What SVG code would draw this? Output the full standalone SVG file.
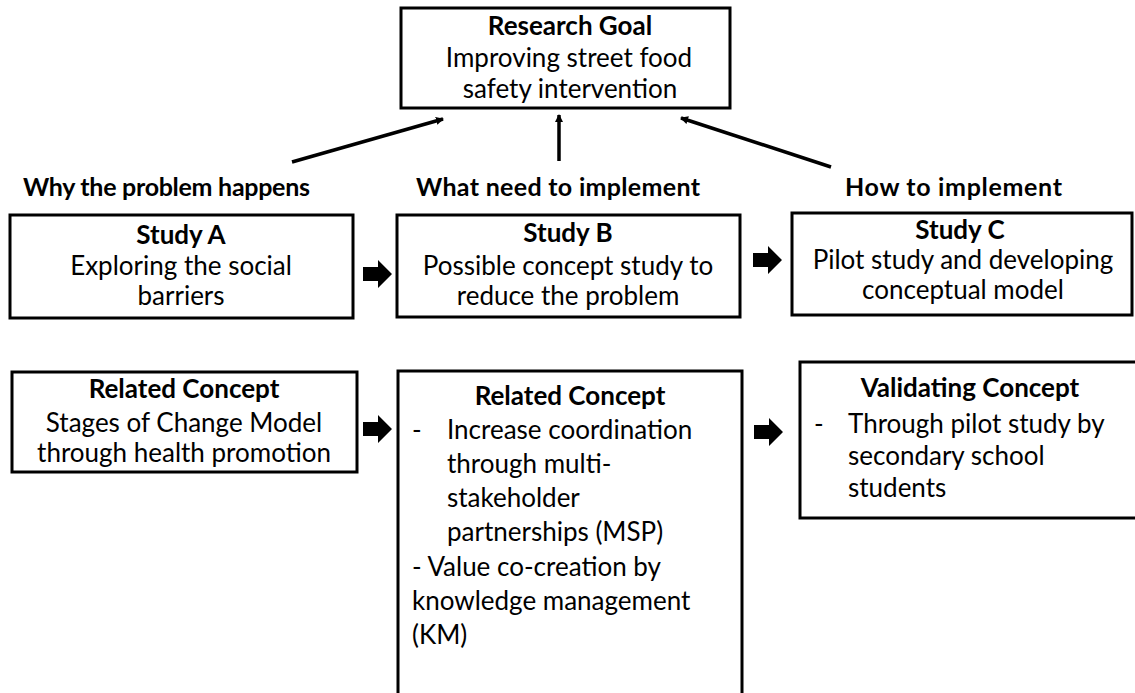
<svg xmlns="http://www.w3.org/2000/svg" width="1135" height="693" viewBox="0 0 1135 693">
<defs>
<style>
text{font-family:Lato,"Open Sans","Liberation Sans",sans-serif;font-size:26px;fill:#000}
.b{font-weight:bold}
.c{text-anchor:middle}
.box{fill:#fff;stroke:#000;stroke-width:3}
.ln{stroke:#000;stroke-width:3.5;fill:none}
.lbl{font-weight:bold;font-size:25px}
</style>
<marker id="ah" markerWidth="10" markerHeight="10" refX="7" refY="4" orient="auto" markerUnits="userSpaceOnUse" viewBox="0 0 10 8">
<path d="M0,0 L8,4 L0,8 Z" fill="#000"/>
</marker>
<path id="blk" d="M0,-7 H15 V-14 L29,0 L15,14 V7 H0 Z" fill="#000"/>
</defs>
<rect width="1135" height="693" fill="#fff"/>

<g id="goal">
<rect class="box" x="401" y="8" width="329" height="100"/>
<text class="b c" x="570" y="35">Research Goal</text>
<text class="c" x="569" y="67">Improving street food</text>
<text class="c" x="570" y="98">safety intervention</text>
</g>

<g id="labels">
<text class="lbl" x="23" y="196" textLength="287">Why the problem happens</text>
<text class="lbl" x="416" y="196" textLength="284">What need to implement</text>
<text class="lbl" x="845" y="196" textLength="217">How to implement</text>
</g>

<g id="studyA">
<rect class="box" x="10" y="215" width="343" height="103"/>
<text class="b c" x="181" y="244">Study A</text>
<text class="c" x="181" y="275">Exploring the social</text>
<text class="c" x="181" y="305">barriers</text>
</g>

<g id="studyB">
<rect class="box" x="397" y="215" width="343" height="102"/>
<text class="b c" x="568" y="242">Study B</text>
<text class="c" x="568" y="275">Possible concept study to</text>
<text class="c" x="568" y="305">reduce the problem</text>
</g>

<g id="studyC">
<rect class="box" x="792" y="213" width="340" height="102"/>
<text class="b c" x="960" y="239">Study C</text>
<text class="c" x="963" y="269">Pilot study and developing</text>
<text class="c" x="963" y="299">conceptual model</text>
</g>

<g id="conceptA">
<rect class="box" x="12" y="372" width="345" height="100"/>
<text class="b c" x="184" y="398">Related Concept</text>
<text class="c" x="184" y="432">Stages of Change Model</text>
<text class="c" x="184" y="462">through health promotion</text>
</g>

<g id="conceptB">
<rect class="box" x="398" y="371" width="344" height="340"/>
<text class="b c" x="570" y="405">Related Concept</text>
<text x="412" y="439">-</text>
<text x="447" y="439">Increase coordination</text>
<text x="447" y="473">through multi-</text>
<text x="447" y="507">stakeholder</text>
<text x="447" y="541">partnerships (MSP)</text>
<text x="412" y="576">- Value co-creation by</text>
<text x="412" y="610">knowledge management</text>
<text x="412" y="644">(KM)</text>
</g>

<g id="validating">
<rect class="box" x="800" y="362" width="345" height="156"/>
<text class="b c" x="970" y="397">Validating Concept</text>
<text x="814" y="433">-</text>
<text x="848" y="433">Through pilot study by</text>
<text x="848" y="465">secondary school</text>
<text x="848" y="497">students</text>
</g>

<g id="connectors">
<line class="ln" x1="292" y1="162" x2="443" y2="119" marker-end="url(#ah)"/>
<line class="ln" x1="559" y1="161" x2="559" y2="115" marker-end="url(#ah)"/>
<line class="ln" x1="831" y1="167" x2="681" y2="118" marker-end="url(#ah)"/>
<use href="#blk" x="363" y="274"/>
<use href="#blk" x="753" y="260"/>
<use href="#blk" x="363" y="429"/>
<use href="#blk" x="754" y="432"/>
</g>
</svg>
